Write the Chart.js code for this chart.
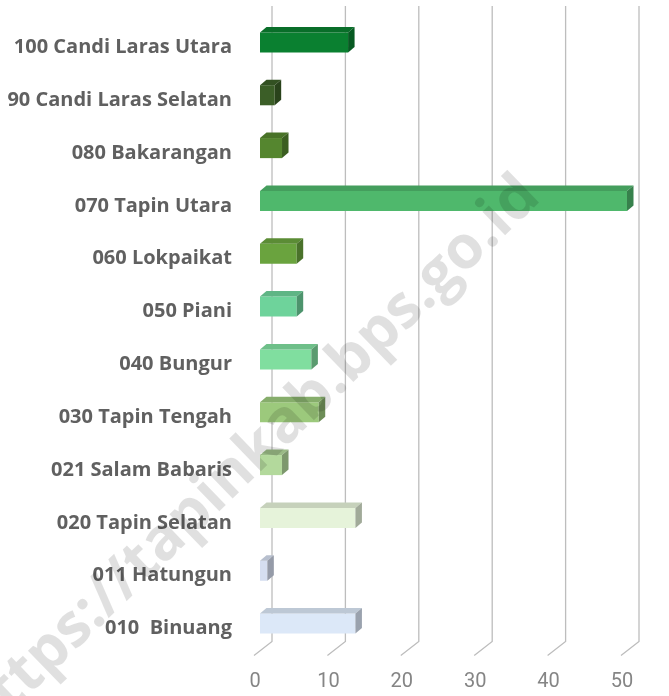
<!DOCTYPE html>
<html>
<head>
<meta charset="utf-8">
<script src="https://cdn.jsdelivr.net/npm/chart.js@4/dist/chart.umd.min.js"></script>
<style>
  html, body { margin: 0; padding: 0; background: #fff; }
  #wrap { width: 669px; height: 696px; position: relative; }
</style>
</head>
<body>
<div id="wrap"><canvas id="chart"></canvas></div>
<script>
const categories = [
  "100 Candi Laras Utara",
  "90 Candi Laras Selatan",
  "080 Bakarangan",
  "070 Tapin Utara",
  "060 Lokpaikat",
  "050 Piani",
  "040 Bungur",
  "030 Tapin Tengah",
  "021 Salam Babaris",
  "020 Tapin Selatan",
  "011 Hatungun",
  "010  Binuang"
];
const values = [12, 2, 3, 50, 5, 5, 7, 8, 3, 13, 1, 13];
const barColors = [
  "#0a8030", "#3b5e27", "#55862f", "#4fb86c", "#6aa33e", "#6ed39b",
  "#80de9f", "#9cc97c", "#b3d99c", "#e6f3da", "#d5def0", "#dce8f8"
];
const xTicks = [0, 10, 20, 30, 40, 50];

// darken a hex colour by amt (0..1)
function shade(hex, amt) {
  var n = parseInt(hex.slice(1), 16);
  var r = (n >> 16) & 255, g = (n >> 8) & 255, b = n & 255;
  r = Math.round(r * (1 - amt)); g = Math.round(g * (1 - amt)); b = Math.round(b * (1 - amt));
  return "rgb(" + r + "," + g + "," + b + ")";
}

// back wall grid lines with a little floor stub, shifted for the 3d look
const grid3d = {
  id: "grid3d",
  beforeDatasetsDraw(chart) {
    const ctx = chart.ctx, xs = chart.scales.x, area = chart.chartArea;
    ctx.save();
    ctx.strokeStyle = "#bdbdbd";
    ctx.lineWidth = 1.3;
    xTicks.forEach(function (v) {
      const px = xs.getPixelForValue(v) + 12;
      ctx.beginPath();
      ctx.moveTo(px, area.top - 10);
      ctx.lineTo(px, area.bottom - 8.5);
      ctx.lineTo(px - 18, area.bottom + 5.5);
      ctx.stroke();
    });
    ctx.restore();
  }
};

// top and side faces of each bar
const bar3d = {
  id: "bar3d",
  afterDatasetsDraw(chart) {
    const ctx = chart.ctx;
    const dx = 6.5, dy = 5.5;
    chart.getDatasetMeta(0).data.forEach(function (el, i) {
      const p = el.getProps(["x", "y", "base", "height"], true);
      const left = Math.min(p.base, p.x), right = Math.max(p.base, p.x);
      const top = p.y - p.height / 2, bottom = p.y + p.height / 2;
      const c = barColors[i];
      ctx.save();
      ctx.fillStyle = shade(c, 0.14);
      ctx.beginPath();
      ctx.moveTo(left, top);
      ctx.lineTo(left + dx, top - dy);
      ctx.lineTo(right + dx, top - dy);
      ctx.lineTo(right, top);
      ctx.closePath();
      ctx.fill();
      ctx.fillStyle = shade(c, 0.3);
      ctx.beginPath();
      ctx.moveTo(right, top);
      ctx.lineTo(right + dx, top - dy);
      ctx.lineTo(right + dx, bottom - dy);
      ctx.lineTo(right, bottom);
      ctx.closePath();
      ctx.fill();
      ctx.restore();
    });
  }
};

const watermark = {
  id: "watermark",
  afterDraw(chart) {
    const ctx = chart.ctx;
    ctx.save();
    ctx.translate(250, 458);
    ctx.rotate(-44 * Math.PI / 180);
    ctx.font = 'bold 60px "Open Sans"';
    ctx.fillStyle = "rgba(0,0,0,0.12)";
    ctx.textAlign = "center";
    ctx.textBaseline = "middle";
    ctx.fillText("https://tapinkab.bps.go.id", 0, 0);
    ctx.restore();
  }
};

new Chart(document.getElementById("chart"), {
  type: "bar",
  data: {
    labels: categories,
    datasets: [{
      data: values,
      backgroundColor: barColors,
      borderWidth: 0,
      barPercentage: 0.38,
      categoryPercentage: 1
    }]
  },
  options: {
    indexAxis: "y",
    responsive: true,
    maintainAspectRatio: false,
    animation: false,
    layout: { padding: { top: 16, right: 42, left: 0, bottom: 0 } },
    plugins: { legend: { display: false }, tooltip: { enabled: false } },
    scales: {
      x: {
        min: 0,
        max: 50,
        afterFit: function (scale) { scale.height = 46; scale.paddingLeft = 0; scale.paddingRight = 0; },
        grid: { display: false, drawTicks: false },
        border: { display: false },
        ticks: {
          stepSize: 10,
          padding: 20,
          labelOffset: -5,
          color: "#858585",
          font: { family: "Roboto", size: 20 }
        }
      },
      y: {
        afterFit: function (scale) { scale.width = 260; scale.paddingTop = 0; scale.paddingBottom = 0; },
        grid: { display: false, drawTicks: false },
        border: { display: false },
        ticks: {
          padding: 28,
          labelOffset: 5,
          color: "#606060",
          font: { family: "Open Sans", size: 20, weight: "bold" }
        }
      }
    }
  },
  plugins: [grid3d, bar3d, watermark]
});
</script>
</body>
</html>
